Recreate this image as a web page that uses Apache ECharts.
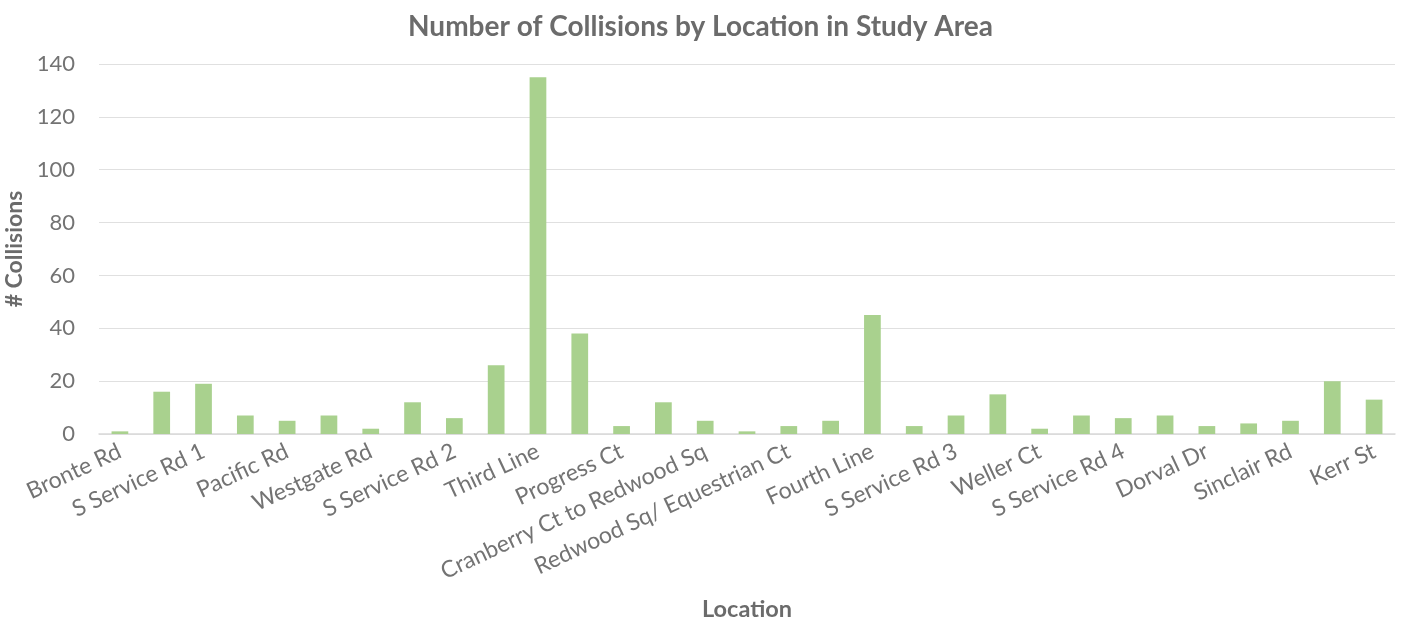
<!DOCTYPE html>
<html>
<head>
<meta charset="utf-8">
<title>Number of Collisions by Location in Study Area</title>
<script src="https://cdn.jsdelivr.net/npm/echarts@6/dist/echarts.min.js"></script>
<style>
  html, body { margin: 0; padding: 0; background: #ffffff; }
  #chart { width: 1401px; height: 618px; }
</style>
</head>
<body>
<div id="chart"></div>
<script>
// Road segments along the study corridor; only every other name is printed on the axis,
// the intermediate segments are left unnamed here.
const locations = [
  'Bronte Rd', '', 'S Service Rd 1', '', 'Pacific Rd', '', 'Westgate Rd', '',
  'S Service Rd 2', '', 'Third Line', '', 'Progress Ct', '', 'Cranberry Ct to Redwood Sq', '',
  'Redwood Sq/ Equestrian Ct', '', 'Fourth Line', '', 'S Service Rd 3', '', 'Weller Ct', '',
  'S Service Rd 4', '', 'Dorval Dr', '', 'Sinclair Rd', '', 'Kerr St'
];

// Number of collisions recorded at each segment
const collisions = [
  1, 16, 19, 7, 5, 7, 2, 12,
  6, 26, 135, 38, 3, 12, 5, 1,
  3, 5, 45, 3, 7, 15, 2, 7,
  6, 7, 3, 4, 5, 20, 13
];

const yTicks = { min: 0, max: 140, step: 20 };

const chart = echarts.init(document.getElementById('chart'), null, { renderer: 'canvas' });

const FONT = 'Lato, "Open Sans", sans-serif';

chart.setOption({
  animation: false,
  backgroundColor: '#ffffff',
  title: {
    text: 'Number of Collisions by Location in Study Area',
    left: 'center',
    top: 8,
    textStyle: { fontFamily: FONT, fontSize: 28, fontWeight: 'bold', color: '#6b6b6b' }
  },
  grid: {
    left: 99, right: 6, top: 64, bottom: 184,
    containLabel: false,
    outerBoundsMode: 'none'
  },
  xAxis: {
    type: 'category',
    data: locations,
    name: 'Location',
    nameLocation: 'middle',
    nameGap: 163,
    nameTextStyle: { fontFamily: FONT, fontSize: 23.5, fontWeight: 'bold', color: '#6b6b6b' },
    axisLine: { lineStyle: { color: '#d9d9d9', width: 1.5 } },
    axisTick: { show: false },
    axisLabel: {
      interval: 0,
      rotate: 25,
      margin: 16,
      fontFamily: FONT,
      fontSize: 23,
      color: '#737373'
    }
  },
  yAxis: {
    type: 'value',
    min: yTicks.min,
    max: yTicks.max,
    interval: yTicks.step,
    name: '# Collisions',
    nameLocation: 'middle',
    nameGap: 67,
    nameTextStyle: { fontFamily: FONT, fontSize: 23, fontWeight: 'bold', color: '#6b6b6b' },
    axisLine: { show: false },
    axisTick: { show: false },
    axisLabel: { margin: 24, fontFamily: FONT, fontSize: 22, color: '#737373' },
    splitLine: { lineStyle: { color: '#e0e0e0', width: 1 } }
  },
  series: [{
    type: 'bar',
    data: collisions,
    barCategoryGap: '60%',
    itemStyle: { color: '#a9d18e' }
  }]
});
</script>
</body>
</html>
